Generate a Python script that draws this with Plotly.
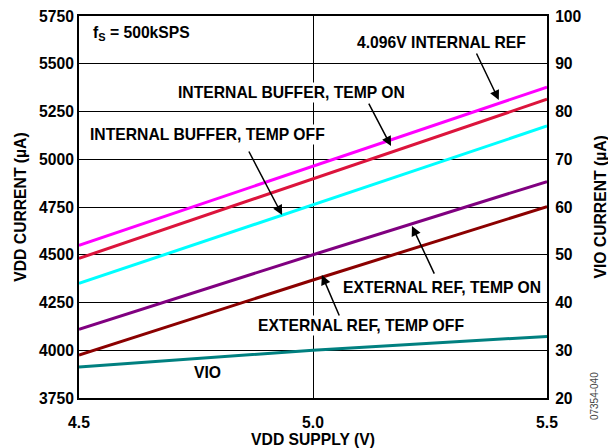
import plotly.graph_objects as go

# VDD supply voltage (V)
vdd_supply = [4.5, 5.0, 5.5]

# VDD current (uA) per configuration
ref_4096_internal = [4549, 4963, 5378]
int_buf_temp_on = [4481, 4897, 5314]
int_buf_temp_off = [4350, 4762, 5174]
ext_ref_temp_on = [4110, 4500, 4883]
ext_ref_temp_off = [3975, 4368, 4752]

# VIO current (uA), right axis
vio_current = [26.5, 30.0, 32.9]

left_ticks = [3750, 4000, 4250, 4500, 4750, 5000, 5250, 5500, 5750]
right_ticks = [20, 30, 40, 50, 60, 70, 80, 90, 100]
x_ticks = [4.5, 5.0, 5.5]
x_ticktext = ['4.5', '5.0', '5.5']

FONT = 'Liberation Sans, Arial, sans-serif'
FS = 15.7

fig = go.Figure()

series = [
    (ref_4096_internal, '#FF00FF'),
    (int_buf_temp_on, '#DC143C'),
    (int_buf_temp_off, '#00FFFF'),
    (ext_ref_temp_on, '#800080'),
    (ext_ref_temp_off, '#8B0000'),
]
for vals, color in series:
    fig.add_trace(go.Scatter(x=vdd_supply, y=vals, mode='lines',
                             line=dict(color=color, width=3), showlegend=False))

fig.add_trace(go.Scatter(x=vdd_supply, y=vio_current, mode='lines', yaxis='y2',
                         line=dict(color='#008080', width=3), showlegend=False))

# page body has an 8px margin, so the figure is 8px smaller than the window
fig.update_layout(
    width=608,
    height=440,
    margin=dict(l=71, r=69, t=8, b=50),
    plot_bgcolor='white',
    paper_bgcolor='white',
    font=dict(family=FONT, size=FS, color='black'),
    xaxis=dict(
        range=[4.5, 5.5],
        tickvals=x_ticks,
        ticktext=x_ticktext,
        showgrid=True, gridcolor='black', gridwidth=1,
        showline=True, linecolor='black', linewidth=2, mirror=True,
        zeroline=False, automargin=False,
        ticks='outside', ticklen=9, tickcolor='rgba(0,0,0,0)',
        ticklabeloverflow='allow',
        tickfont=dict(size=FS, weight='bold'),
        title=dict(text='VDD SUPPLY (V)', font=dict(size=FS, weight='bold'), standoff=5),
    ),
    yaxis=dict(
        range=[3750, 5750],
        tickvals=left_ticks,
        tickformat='d',
        showgrid=True, gridcolor='black', gridwidth=1,
        showline=True, linecolor='black', linewidth=2, mirror=True,
        zeroline=False, automargin=False,
        ticks='',
        ticklabeloverflow='allow',
        tickfont=dict(size=FS, weight='bold'),
        title=dict(text='VDD CURRENT (µA)', font=dict(size=FS, weight='bold'), standoff=8),
    ),
    yaxis2=dict(
        range=[20, 100],
        tickvals=right_ticks,
        overlaying='y',
        side='right',
        showgrid=False,
        showline=True, linecolor='black', linewidth=2,
        zeroline=False, automargin=False,
        ticks='outside', ticklen=3, tickcolor='rgba(0,0,0,0)',
        ticklabeloverflow='allow',
        tickfont=dict(size=FS, weight='bold'),
    ),
)

# right axis title placed directly so it sits inside the window
fig.add_annotation(xref='paper', yref='paper', x=1.1122, y=0.5, xanchor='center',
                   yanchor='middle', text='VIO CURRENT (µA)', textangle=-90,
                   showarrow=False, font=dict(size=FS, weight='bold'))

labels = [
    ('4.096V INTERNAL REF', 5.2735, 5609),
    ('INTERNAL BUFFER, TEMP ON', 4.955, 5347),
    ('INTERNAL BUFFER, TEMP OFF', 4.7746, 5127),
    ('EXTERNAL REF, TEMP ON', 5.2756, 4331),
    ('EXTERNAL REF, TEMP OFF', 5.1026, 4132),
    ('VIO', 4.7735, 3881),
]
for text, x, y in labels:
    fig.add_annotation(x=x, y=y, text=text, showarrow=False, bgcolor='white',
                       font=dict(size=FS, weight='bold'), borderpad=1)

fig.add_annotation(x=4.5256, y=5656, xanchor='left', text='f<sub>S</sub> = 500kSPS',
                   showarrow=False, font=dict(size=FS, weight='bold'))

# arrows: head at (x, y) in data units, tail offset in pixels
arrows = [
    (5.397, 5310, -23, -48),
    (5.1667, 5069, -23, -44),
    (4.934, 4708, -34, -65),
    (5.2115, 4650, 23, 49),
    (5.019, 4394, 18, 42),
]
for x, y, ax, ay in arrows:
    fig.add_annotation(x=x, y=y, ax=ax, ay=ay, text='', showarrow=True,
                       arrowhead=2, arrowsize=1.3, arrowwidth=1.5, arrowcolor='black')

fig.add_annotation(xref='paper', yref='paper', x=1.1165, y=-0.063, text='07354-040',
                   textangle=-90, showarrow=False, font=dict(size=10, color='#444'))

fig.write_html('out.html')
